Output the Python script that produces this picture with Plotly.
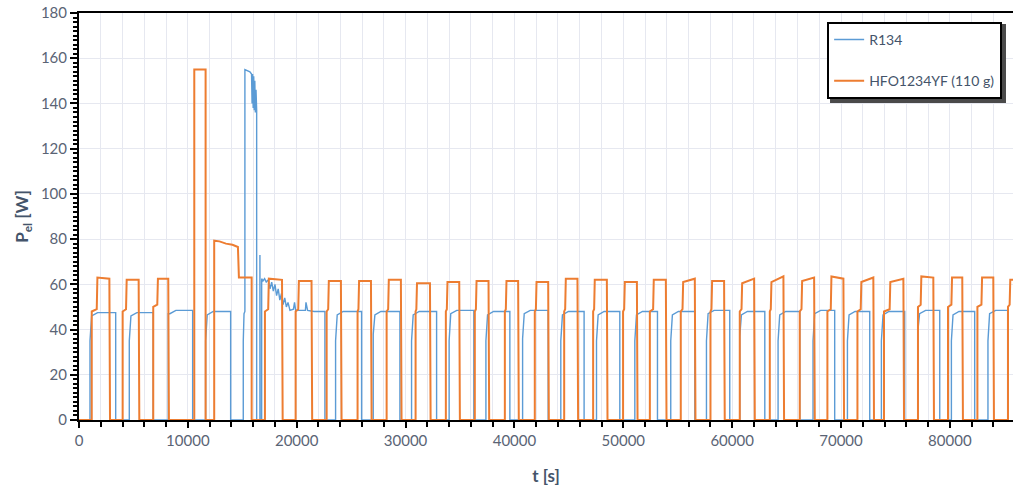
import plotly.graph_objects as go

# ---------------- data ----------------
# R134 regular compressor cycles
r134_on = [1010, 4620, 8200, 11630, 23570, 27030, 30550, 34000, 37380, 40750, 44260, 47540,
           51060, 54360, 57640, 60700, 64220, 67430, 70590, 73710, 77070, 80140, 83500]
r134_off = [3370, 6820, 10440, 13930, 25960, 29480, 32850, 36270, 39580, 43100, 46400, 49680,
            53140, 56570, 59780, 63000, 66210, 69420, 72640, 75850, 79070, 82280, 85310]
r134_level = [47.5, 47.5, 48.5, 48.0, 48.0, 48.0, 48.0, 48.5, 48.0, 48.5, 48.0, 48.0,
              48.0, 48.0, 48.5, 48.0, 48.0, 48.5, 48.0, 48.0, 48.5, 48.0, 48.5]
r134_dip = [35, 35, 47, 35, 35, 38, 35, 35, 35, 36, 35, 35,
            35, 35, 35, 37, 35, 35, 35, 35, 40, 35, 35]
# R134 special episode (pull-down peak and recovery)
r134_spec_t = [15090, 15090, 15160, 15240, 15240, 15700, 15850, 15900, 15950, 16000, 16050, 16100,
               16150, 16200, 16260, 16320, 16320, 16620, 16620, 16640, 16640, 16780, 16780, 16900,
               17050, 17200, 17400, 17550, 17700, 17850, 18000, 18150, 18300, 18450, 18600, 18750,
               18900, 19050, 19200, 19380, 19700, 19800, 19900, 20500, 20800, 20850, 20950, 21000,
               21600, 22000, 22590, 22590]
r134_spec_v = [0, 35, 47, 48, 155, 154, 153, 140, 153, 138, 152, 137,
               150, 136, 146, 137, 0, 0, 73, 73, 0, 0, 62.5, 61.5,
               62.5, 61, 62, 58, 61, 57, 60, 55, 58, 53, 56, 51,
               54, 50, 52, 48.5, 49, 52, 48.5, 48.5, 48.5, 52, 48.5, 48.5,
               48.0, 48.0, 48.0, 0]

# HFO1234YF regular cycles: start, step-up, stop
hfo_on = [1170, 4010, 6820, 17080, 19900, 22750, 25590, 28260, 30920, 33700, 36360, 39120,
          41870, 44570, 47230, 49980, 52440, 55280, 58010, 60700, 63460, 66210, 68750, 71510,
          73950, 77070, 79830, 82530, 85340]
hfo_step = [1630, 4320, 7190, 17380, 20140, 22890, 25670, 28400, 30990, 33790, 36460, 39210,
            41970, 44660, 47320, 50080, 52740, 55440, 58100, 60860, 63550, 66370, 69060, 71810,
            74470, 77320, 80140, 82900, 85490]
hfo_off = [2850, 5540, 8260, 18710, 21420, 24120, 26880, 29630, 32300, 34990, 37680, 40400,
           43160, 45850, 48550, 51310, 53970, 56630, 59320, 62080, 64770, 67590, 70280, 73030,
           75790, 78540, 81200, 84050, 86800]
hfo_low = [48, 48, 50, 48, 48, 48, 48, 48, 48, 48, 48, 48,
           48, 48, 48, 48, 48, 48, 48, 48, 48, 48, 48, 48,
           48, 50, 50, 50, 50]
hfo_high_start = [63, 62, 62.5, 62.5, 61.5, 61.5, 61.5, 62, 60.5, 61, 61.5, 61.5,
                  61, 62.5, 62, 61, 62, 61, 61.5, 60.5, 61, 61.5, 63.5, 61,
                  61, 63.5, 63, 63, 62]
hfo_high_end = [62.5, 62, 62.5, 62, 61.5, 61.5, 61.5, 62, 60.5, 61, 61.5, 61.5,
                61, 62.5, 62, 61, 62, 62.5, 61.5, 62.5, 63.5, 63, 62.5, 63,
                62.5, 63, 63, 63, 62]
# HFO1234YF special episode
hfo_spec_t = [10590, 10590, 11630, 11630, 12420, 12420, 12900, 13500, 14100, 14600, 14690, 15860, 15860]
hfo_spec_v = [0, 155, 155, 0, 0, 79.3, 79.0, 78.0, 77.5, 76.5, 63, 63, 0]

x_ticks = [0, 10000, 20000, 30000, 40000, 50000, 60000, 70000, 80000]
y_ticks = [0, 20, 40, 60, 80, 100, 120, 140, 160, 180]


def build_r134():
    blocks = []
    for on, off, lev, dip in zip(r134_on, r134_off, r134_level, r134_dip):
        blocks.append([(on, 0), (on, dip), (on + 150, lev - 1.5), (on + 700, lev), (off, lev), (off, 0)])
    blocks.append(list(zip(r134_spec_t, r134_spec_v)))
    blocks.sort(key=lambda b: b[0][0])
    pts = [(0, 0)]
    for b in blocks:
        pts.extend(b)
    return [p[0] for p in pts], [p[1] for p in pts]


def build_hfo():
    blocks = []
    for on, st, off, lo, hs, he in zip(hfo_on, hfo_step, hfo_off, hfo_low, hfo_high_start, hfo_high_end):
        blocks.append([(on, 0), (on, lo), (st, lo + 1), (st + 60, hs), (off - 60, he), (off, 0)])
    blocks.append(list(zip(hfo_spec_t, hfo_spec_v)))
    blocks.sort(key=lambda b: b[0][0])
    pts = [(0, 0)]
    for b in blocks:
        pts.extend(b)
    return [p[0] for p in pts], [p[1] for p in pts]


rx, ry = build_r134()
hx, hy = build_hfo()

BLUE = "#5B9BD5"
ORANGE = "#ED7D31"
TXT = "#44546A"

fig = go.Figure()
fig.add_trace(go.Scatter(x=rx, y=ry, mode="lines", name="R134", legendgroup="a",
                         line=dict(color=BLUE, width=1.4)))
fig.add_trace(go.Scatter(x=hx, y=hy, mode="lines", name="HFO1234YF (110 g)", legendgroup="b",
                         line=dict(color=ORANGE, width=2.0)))

# legend drop shadow (drawn beneath the legend box)
fig.add_shape(type="rect", xref="paper", yref="paper",
              x0=0.8041, x1=0.9925, y0=0.7790, y1=0.9730,
              fillcolor="#4a4a4a", line=dict(width=0), layer="above")

fig.update_layout(
    width=1013, height=491,
    margin=dict(l=79, r=0, t=13, b=71, autoexpand=False),
    paper_bgcolor="white", plot_bgcolor="white",
    font=dict(family="Lato", size=15, color="#5A6475"),
    showlegend=True,
    legend=dict(x=0.801, y=0.978, xanchor="left", yanchor="top",
                bgcolor="white", bordercolor="black", borderwidth=2,
                font=dict(size=14, color=TXT), tracegroupgap=20,
                traceorder="grouped", entrywidth=134, entrywidthmode="pixels"),
)
fig.update_xaxes(
    range=[0, 85800], tickvals=x_ticks, ticktext=[str(v) for v in x_ticks],
    ticks="outside", ticklen=6, tickwidth=2, tickcolor="black",
    showline=True, linecolor="black", linewidth=2, mirror=True,
    showgrid=True, gridcolor="#E6E8F0", gridwidth=1, zeroline=False,
    minor=dict(dtick=2000, tick0=0, ticks="outside", ticklen=5, tickwidth=2, tickcolor="black",
               showgrid=True, gridcolor="#E6E8F0", gridwidth=1),
    title=dict(text="<b>t [s]</b>", font=dict(size=17, color=TXT), standoff=22),
)
fig.update_yaxes(
    range=[0, 180], tickvals=y_ticks, ticktext=[str(v) for v in y_ticks],
    ticks="outside", ticklen=7, tickwidth=2, tickcolor="black",
    showline=True, linecolor="black", linewidth=2,
    showgrid=True, gridcolor="#E6E8F0", gridwidth=1, zeroline=False,
    minor=dict(dtick=2, tick0=0, ticks="outside", ticklen=4, tickwidth=2, tickcolor="black",
               showgrid=False),
    title=dict(text="<b>P<sub>el</sub> [W]</b>", font=dict(size=17, color=TXT), standoff=8),
)

fig.write_html("out.html", config={"displayModeBar": False},
               post_script="document.body.style.margin='0px';")
